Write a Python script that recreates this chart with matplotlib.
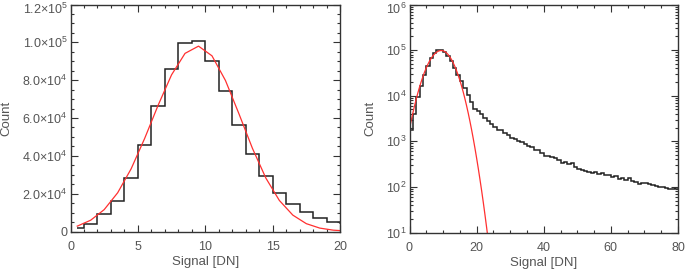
import matplotlib
matplotlib.use('Agg')
import matplotlib.pyplot as plt
from matplotlib.transforms import ScaledTranslation
from matplotlib.ticker import MultipleLocator, FixedLocator, FixedFormatter, LogLocator, NullFormatter

# ---- data ----
bin_edges = [0.5] + list(range(1, 81))
counts = [1.8e3, 3.9e3, 9.2e3, 1.6e4, 2.84e4, 4.57e4, 6.63e4, 8.59e4, 9.95e4, 1.005e5,
          9.03e4, 7.41e4, 5.63e4, 4.09e4, 2.91e4, 2.06e4, 1.46e4, 1.04e4, 7.2e3, 5.1e3,
          4.6e3, 3.9e3, 3.3e3, 2.8e3, 2.4e3, 2.1e3, 1.8e3, 1.75e3, 1.5e3, 1.35e3,
          1.2e3, 1.1e3, 1.0e3, 950, 880, 780, 740, 650, 640, 560,
          480, 470, 450, 420, 390, 330, 360, 320, 330, 270,
          250, 230, 220, 215, 200, 210, 195, 205, 185, 180,
          165, 170, 150, 160, 145, 155, 135, 125, 118, 120,
          122, 118, 108, 105, 100, 98, 95, 90, 88, 95]

fit_x = [0.0, 0.5, 1.0, 1.5, 2.0, 2.5, 3.0, 3.5, 4.0, 4.5, 5.0, 5.5, 6.0, 6.5, 7.0, 7.5,
         8.0, 8.5, 9.0, 9.5, 10.0, 10.5, 11.0, 11.5, 12.0, 12.5, 13.0, 13.5, 14.0, 14.5,
         15.0, 15.5, 16.0, 16.5, 17.0, 17.5, 18.0, 18.5, 19.0, 19.5, 20.0, 20.5, 21.0,
         21.5, 22.0, 22.5, 23.0, 23.5, 24.0]
fit_y = [1885, 2832, 4161, 5978, 8405, 11565, 15552, 20473, 26333, 33144, 40807, 49147,
         57879, 66689, 75146, 82830, 89298, 94168, 97127, 97990, 96560, 92865, 87150,
         79820, 71344, 62230, 52959, 43992, 35662, 28214, 21776, 16405, 12064, 8653,
         6056, 4141, 2761, 1796, 1141, 707, 427, 252, 145, 82, 45, 24, 12.5, 6.4, 3.2]

left_yticks = [0, 2e4, 4e4, 6e4, 8e4, 1e5, 1.2e5]
left_yticklabels = ['0', '2.0×10$^{4}$', '4.0×10$^{4}$', '6.0×10$^{4}$', '8.0×10$^{4}$',
                    '1.0×10$^{5}$', '1.2×10$^{5}$']
right_yticks = [1e1, 1e2, 1e3, 1e4, 1e5, 1e6]
right_yticklabels = ['10$^{1}$', '10$^{2}$', '10$^{3}$', '10$^{4}$', '10$^{5}$', '10$^{6}$']

TXT = '#555555'
AX = '#333333'

plt.rcParams['font.family'] = ['Liberation Sans', 'DejaVu Sans']
plt.rcParams['mathtext.fontset'] = 'custom'
plt.rcParams['mathtext.rm'] = 'Liberation Sans'
plt.rcParams['mathtext.default'] = 'regular'

fig = plt.figure(figsize=(6.85, 2.71), dpi=100)
ax1 = fig.add_axes([70.5/685, 1 - 231.5/271, 269.5/685, 227.0/271])
ax2 = fig.add_axes([409.5/685, 1 - 232.5/271, 268.5/685, 228.0/271])

# left: linear
ax1.stairs(counts, bin_edges, color='#222222', lw=1.1, baseline=None)
ax1.plot(fit_x[1::2], fit_y[1::2], color='#ff3030', lw=0.9)
ax1.set_xlim(0, 20)
ax1.set_ylim(0, 1.2e5)
ax1.xaxis.set_major_locator(MultipleLocator(5))
ax1.xaxis.set_minor_locator(MultipleLocator(1))
ax1.yaxis.set_major_locator(FixedLocator(left_yticks))
ax1.yaxis.set_major_formatter(FixedFormatter(left_yticklabels))
ax1.yaxis.set_minor_locator(MultipleLocator(5e3))

# right: log
ax2.stairs(counts, bin_edges, color='#222222', lw=1.1, baseline=None)
ax2.plot(fit_x, fit_y, color='#ff3030', lw=0.9)
ax2.set_yscale('log')
ax2.set_xlim(0, 80)
ax2.set_ylim(1e1, 1e6)
ax2.xaxis.set_major_locator(MultipleLocator(20))
ax2.xaxis.set_minor_locator(MultipleLocator(5))
ax2.yaxis.set_major_locator(FixedLocator(right_yticks))
ax2.yaxis.set_major_formatter(FixedFormatter(right_yticklabels))
ax2.yaxis.set_minor_locator(LogLocator(base=10, subs=range(2, 10), numticks=20))
ax2.yaxis.set_minor_formatter(NullFormatter())

for ax in (ax1, ax2):
    for s in ax.spines.values():
        s.set_color(AX)
        s.set_linewidth(1.0)
    ax.tick_params(which='both', direction='in', top=True, right=True,
                   colors=AX, labelcolor=TXT, labelsize=9, width=0.8)
    ax.tick_params(which='major', length=5)
    ax.tick_params(which='minor', length=2.5)
    ax.tick_params(axis='x', which='major', pad=7)
    ax.tick_params(axis='y', which='major', pad=2)
    ax.set_xlabel('Signal [DN]', color=TXT, fontsize=9.5, labelpad=2)
    ax.set_ylabel('Count', color=TXT, fontsize=9.5)

ax1.yaxis.set_label_coords(-0.215, 0.5)
ax2.yaxis.set_label_coords(-0.123, 0.5)

# nudge the topmost y tick labels down slightly so they stay inside the figure
fig.canvas.draw()
for ax in (ax1, ax2):
    top_tick = ax.yaxis.get_major_ticks()[-1]
    lab = top_tick.label1
    lab.set_transform(lab.get_transform() + ScaledTranslation(0, -2.5/72, fig.dpi_scale_trans))

fig.savefig('out.png', dpi=100)
